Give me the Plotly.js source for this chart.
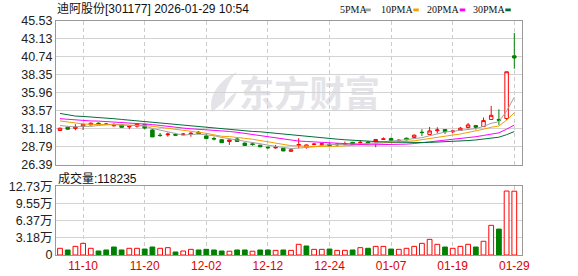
<!DOCTYPE html>
<html><head><meta charset="utf-8">
<script src="https://cdn.plot.ly/plotly-3.0.1.min.js"></script>
<style>html,body{margin:0;padding:0;background:#fff}#chart{width:578px;height:276px}</style>
</head><body><div id="chart"></div>
<script>
const dates = ['11-05','11-06','11-07','11-10','11-11','11-12','11-13','11-14','11-17','11-18',
  '11-19','11-20','11-21','11-24','11-25','11-26','11-27','11-28','12-01','12-02',
  '12-03','12-04','12-05','12-08','12-09','12-10','12-11','12-12','12-15','12-16',
  '12-17','12-18','12-19','12-22','12-23','12-24','12-25','12-26','12-29','12-30',
  '12-31','01-05','01-06','01-07','01-08','01-09','01-12','01-13','01-14','01-15',
  '01-16','01-19','01-20','01-21','01-22','01-23','01-26','01-27','01-28','01-29'];
const openP = [30.92,31.36,31.20,31.50,31.68,31.90,31.80,31.55,31.67,31.40,
  31.50,31.76,31.00,30.30,30.35,30.40,30.35,30.45,30.70,30.20,
  29.85,29.70,29.45,29.80,29.25,29.15,28.97,28.70,28.60,28.55,
  28.15,28.95,28.68,29.05,29.08,29.10,29.00,29.05,29.35,29.30,
  29.40,29.41,29.75,29.85,29.55,29.90,30.00,30.70,30.40,30.90,
  31.05,30.75,30.96,31.32,31.58,31.45,32.40,32.40,32.52,40.88];
const highP = [31.30,31.42,31.76,31.80,32.00,32.00,31.90,31.90,31.75,31.55,
  31.90,31.80,31.10,30.60,30.65,30.60,30.60,30.75,30.85,30.50,
  30.10,29.80,29.70,29.90,29.30,29.20,29.00,28.80,29.00,28.60,
  28.45,29.90,29.05,29.20,29.25,29.20,29.20,29.45,29.40,29.65,
  29.45,29.80,30.00,30.00,29.75,29.95,30.40,31.10,31.40,31.35,
  31.10,31.00,31.40,31.93,31.60,32.65,34.20,33.75,38.76,43.94];
const lowP = [30.88,31.00,30.96,31.00,31.60,31.65,31.70,31.45,31.30,31.10,
  31.30,31.10,30.05,30.10,30.10,30.25,30.30,30.10,30.45,29.75,
  29.60,29.25,29.00,29.40,28.90,28.90,28.70,28.50,28.50,28.15,
  28.05,28.55,28.50,28.95,28.95,28.80,28.90,28.95,29.05,29.20,
  29.05,28.70,29.70,29.55,29.50,29.60,29.95,30.20,30.35,30.55,
  30.45,30.60,30.90,31.20,31.05,31.40,32.35,31.67,32.30,39.16];
const closeP = [31.23,31.10,31.40,31.76,31.90,31.82,31.75,31.62,31.35,31.48,
  31.85,31.25,30.07,30.25,30.45,30.30,30.45,30.55,30.50,29.85,
  29.80,29.30,29.67,29.46,28.93,29.05,28.75,28.62,28.70,28.20,
  28.35,29.05,29.00,29.12,29.15,28.90,29.10,29.15,29.10,29.35,
  29.20,29.72,29.80,29.60,29.62,29.68,30.30,30.65,30.87,31.00,
  30.78,30.85,31.23,31.67,31.35,32.25,32.95,32.30,38.76,40.60];
const volume = [12400,9300,16000,21600,12400,7400,9300,14800,9300,12400,
  12400,11000,14800,12400,13600,5600,7400,10500,9300,10500,
  9300,7400,7000,9300,9300,7000,9300,9300,8600,9300,
  8600,19800,16700,10500,10500,11000,8600,8600,9300,13600,
  12400,16000,16000,11000,10500,12400,16000,21600,29000,19800,
  14800,12400,16000,19800,14800,25400,55000,48000,118500,118235];
const ma5Lead = [31.58,31.45,31.40,31.48];
const ma10Lead = [32.20,32.05,31.90,31.80,31.75,31.72,31.70,31.68,31.66];
const ma20Lead = [32.50,32.40,32.30,32.25,32.20,32.18,32.12,32.08,32.00,31.95,
  31.90,31.85,31.72,31.60,31.45,31.35,31.25,31.15,31.10];
const ma30Lead = [33.20,33.00,32.85,32.80,32.75,32.70,32.60,32.50,32.40,32.30,
  32.25,32.15,32.05,31.95,31.85,31.75,31.65,31.55,31.45,31.35,
  31.25,31.15,31.10,31.00,30.90,30.80,30.75,30.65,30.50];
const maPeriods = [5,10,20,30];
const maNames = ['5PMA','10PMA','20PMA','30PMA'];
const maColors = ['#a0a0a0','#f0a000','#ff00ff','#006e3a'];
const priceTicks = [45.53,43.13,40.74,38.35,35.96,33.57,31.18,28.79,26.39];
const volTicks = [0,31800,63700,95500,127300];
const volTickText = ['0','3.18万','6.37万','9.55万','12.73万'];
const xTickDates = ['11-10','11-20','12-02','12-12','12-24','01-07','01-19','01-29'];
const titleText = '迪阿股份[301177] 2026-01-29 10:54';
const watermarkText = '东方财富';

const RED = '#ff0000', GREEN = '#008000';
function movingAvg(n, lead) {
  return closeP.map((c, i) => {
    if (i < n - 1) return lead[i];
    let s = 0; for (let k = i - n + 1; k <= i; k++) s += closeP[k];
    return s / n;
  });
}
const leads = [ma5Lead, ma10Lead, ma20Lead, ma30Lead];
const up = closeP.map((c, i) => i === 0 ? c >= openP[0] : c >= closeP[i - 1]);

const L = 56, R = 522, T = 21, B = 255;
const px = x => (x - L) / (R - L);
const py = y => (B - y) / (B - T);

const traces = [];
traces.push({
  type: 'candlestick', x: dates, open: openP, high: highP, low: lowP, close: closeP,
  xaxis: 'x', yaxis: 'y', hoverinfo: 'skip', showlegend: false,
  increasing: {line: {color: RED, width: 1}, fillcolor: '#ffffff'},
  decreasing: {line: {color: GREEN, width: 1}, fillcolor: GREEN},
  whiskerwidth: 0
});
maPeriods.forEach((n, j) => {
  traces.push({
    type: 'scatter', mode: 'lines', x: dates, y: movingAvg(n, leads[j]),
    xaxis: 'x', yaxis: 'y', line: {color: maColors[j], width: 1}, hoverinfo: 'skip', showlegend: false
  });
});
traces.push({
  type: 'bar', x: dates, y: volume, xaxis: 'x2', yaxis: 'y2', hoverinfo: 'skip', showlegend: false,
  marker: {color: up.map(u => u ? '#ffffff' : GREEN), line: {color: up.map(u => u ? RED : GREEN), width: 1}}
});

// watermark drawn as an SVG image below the grid
const wmSvg = '<svg xmlns="http://www.w3.org/2000/svg" width="190" height="48" viewBox="0 0 190 48">' +
  '<path d="M17 44 C13 30 22 13 42 4 C33 14 29 24 30 33 C26 37 21 40 17 44 Z" fill="#e4e4e8"/>' +
  '<path d="M28 42 C30 33 36 27 42 24 C39 31 36 37 28 42 Z" fill="#e4e4e8"/>' +
  '<text x="44" y="39" font-family="Noto Sans CJK SC" font-weight="bold" font-size="36" fill="#e4e4e8" textLength="141" lengthAdjust="spacingAndGlyphs">' +
  watermarkText + '</text></svg>';
const images = [{
  source: 'data:image/svg+xml;charset=utf-8,' + encodeURIComponent(wmSvg),
  xref: 'paper', yref: 'paper', x: px(195), y: py(68), sizex: 190 / (R - L), sizey: 48 / (B - T),
  xanchor: 'left', yanchor: 'top', sizing: 'stretch', layer: 'below'
}];

const annotations = [
  {text: titleText, xref: 'paper', yref: 'paper', x: px(55), y: py(8.7), xanchor: 'left', yanchor: 'middle',
   showarrow: false, font: {size: 12, color: '#111'}},
  {text: '成交量:' + volume[volume.length - 1], xref: 'paper', yref: 'paper', x: px(56), y: py(178),
   xanchor: 'left', yanchor: 'middle', showarrow: false, font: {size: 12, color: '#111'}}
];
const legendX = [338.7, 380.3, 425.7, 471.7];
const dashX = [365.3, 413.3, 459.7, 505.3];
const shapes = [];
maNames.forEach((nm, j) => {
  annotations.push({text: nm, xref: 'paper', yref: 'paper', x: px(legendX[j] - 1), y: py(9.3), xanchor: 'left',
    yanchor: 'middle', showarrow: false, font: {size: 10, color: '#111', family: 'Liberation Serif'}});
  shapes.push({type: 'rect', xref: 'paper', yref: 'paper', x0: px(dashX[j]), x1: px(dashX[j] + 5.5),
    y0: py(11.3), y1: py(8.5), fillcolor: maColors[j], line: {width: 0}});
});

const gridX = {showgrid: true, gridcolor: '#cccccc', griddash: '4px,3px', gridwidth: 1};
const layout = {
  width: 578, height: 276, margin: {l: L, r: 578 - R, t: T, b: 276 - B, pad: 0},
  paper_bgcolor: '#ffffff', plot_bgcolor: 'rgba(0,0,0,0)',
  font: {family: 'Liberation Sans, Noto Sans CJK SC, sans-serif', size: 12, color: '#222'},
  showlegend: false, boxgap: 0.35, bargap: 0.38, dragmode: false,
  xaxis: Object.assign({type: 'category', anchor: 'y', range: [-0.52, 60], tickvals: xTickDates,
    showticklabels: false, ticks: '', showline: true, mirror: true, linecolor: '#999', linewidth: 1,
    rangeslider: {visible: false}, fixedrange: true}, gridX),
  xaxis2: Object.assign({type: 'category', anchor: 'y2', matches: 'x', range: [-0.52, 60], tickvals: xTickDates,
    ticktext: xTickDates, ticks: '', tickfont: {size: 12, color: '#e00000'}, showline: true, mirror: true,
    linecolor: '#999', linewidth: 1, rangeslider: {visible: false}, fixedrange: true}, gridX),
  yaxis: {domain: [py(164.5), 1], range: [26.39, 45.53], tickvals: priceTicks,
    ticktext: priceTicks.map(v => v.toFixed(2)), ticks: '', tickfont: {size: 12.5, color: '#222'},
    gridcolor: '#d3d3d3', showline: true, mirror: true, linecolor: '#999', zeroline: false, fixedrange: true},
  yaxis2: {domain: [0, py(186.3)], range: [0, 127300], tickvals: volTicks, ticktext: volTickText, ticks: '',
    tickfont: {size: 12.5, color: '#222'}, gridcolor: '#d3d3d3', showline: true, mirror: true, linecolor: '#999',
    zeroline: false, fixedrange: true},
  annotations: annotations, shapes: shapes, images: images
};
Plotly.newPlot('chart', traces, layout, {staticPlot: true, displayModeBar: false});
</script></body></html>
